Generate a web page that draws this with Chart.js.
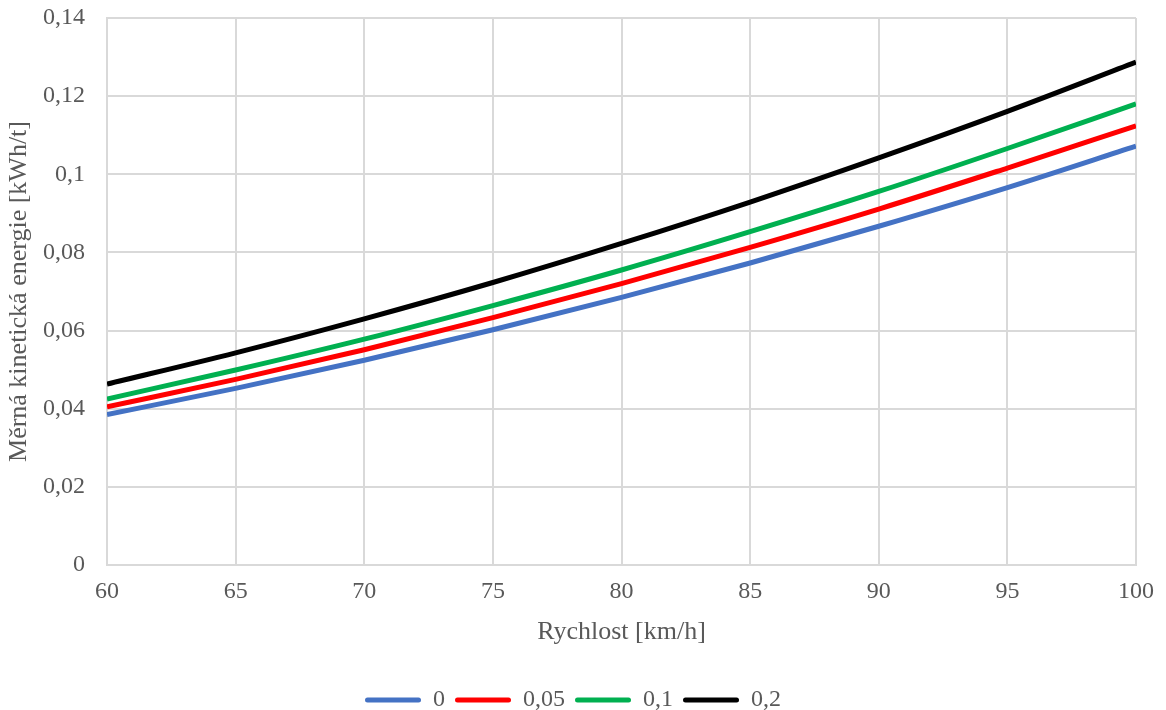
<!DOCTYPE html>
<html>
<head>
<meta charset="utf-8">
<script src="https://cdn.jsdelivr.net/npm/chart.js@4/dist/chart.umd.min.js"></script>
<style>
  html, body { margin: 0; padding: 0; background: #fff; }
  #wrap { width: 1166px; height: 710px; position: relative; }
</style>
</head>
<body>
<div id="wrap"><canvas id="energyChart"></canvas></div>
<script>
  // rychlost [km/h]
  const speeds = [60, 65, 70, 75, 80, 85, 90, 95, 100];

  // měrná kinetická energie [kWh/t] pro jednotlivé řady
  const series0 = [0.0385, 0.0452, 0.0524, 0.0602, 0.0685, 0.0773, 0.0867, 0.0966, 0.1072];
  const series005 = [0.0405, 0.0475, 0.0551, 0.0633, 0.0720, 0.0813, 0.0911, 0.1016, 0.1124];
  const series01 = [0.0425, 0.0499, 0.0578, 0.0664, 0.0755, 0.0853, 0.0956, 0.1066, 0.1180];
  const series02 = [0.0463, 0.0543, 0.0630, 0.0723, 0.0823, 0.0929, 0.1042, 0.1161, 0.1287];

  const seriesNames = ['0', '0,05', '0,1', '0,2'];
  const seriesColors = ['#4472C4', '#FF0000', '#00B050', '#000000'];

  const yTicks = [0, 0.02, 0.04, 0.06, 0.08, 0.1, 0.12, 0.14];

  const fontFamily = '"Liberation Serif", "Times New Roman", serif';
  const textColor = '#595959';
  const gridColor = '#D9D9D9';

  function toPoints(values) {
    return speeds.map((s, i) => ({ x: s, y: values[i] }));
  }

  function czNumber(v) {
    return String(+v.toFixed(2)).replace('.', ',');
  }

  const allSeries = [series0, series005, series01, series02];
  const datasets = allSeries.map((vals, i) => ({
    label: seriesNames[i],
    data: toPoints(vals),
    borderColor: seriesColors[i],
    backgroundColor: seriesColors[i],
    borderWidth: 5,
    pointRadius: 0,
    pointHoverRadius: 0,
    cubicInterpolationMode: 'monotone',
    fill: false
  }));

  const ctx = document.getElementById('energyChart').getContext('2d');
  new Chart(ctx, {
    type: 'line',
    data: { datasets: datasets },
    options: {
      responsive: true,
      maintainAspectRatio: false,
      animation: false,
      layout: { padding: { top: 0, right: 24, left: 4, bottom: -12 } },
      plugins: {
        tooltip: { enabled: false },
        legend: {
          position: 'bottom',
          labels: {
            font: { family: fontFamily, size: 24 },
            color: textColor,
            boxWidth: 56,
            boxHeight: 5,
            padding: 10,
            generateLabels: chart => chart.data.datasets.map((ds, i) => ({
              text: ds.label,
              fillStyle: ds.borderColor,
              strokeStyle: ds.borderColor,
              lineWidth: 0,
              borderRadius: 2.5,
              fontColor: textColor,
              datasetIndex: i
            }))
          }
        }
      },
      scales: {
        x: {
          type: 'linear',
          min: speeds[0],
          max: speeds[speeds.length - 1],
          ticks: {
            stepSize: 5,
            font: { family: fontFamily, size: 24 },
            color: textColor,
            padding: 12
          },
          grid: { color: gridColor, lineWidth: 2, drawTicks: false },
          border: { color: gridColor, width: 2 },
          title: {
            display: true,
            text: 'Rychlost [km/h]',
            font: { family: fontFamily, size: 26 },
            color: textColor,
            padding: { top: -1, bottom: 30 }
          }
        },
        y: {
          min: yTicks[0],
          max: yTicks[yTicks.length - 1],
          afterBuildTicks: axis => { axis.ticks = yTicks.map(v => ({ value: v })); },
          afterFit: axis => {
            axis.width = 103;
            axis.paddingTop = 18;
          },
          ticks: {
            font: { family: fontFamily, size: 24 },
            color: textColor,
            padding: 22,
            callback: v => czNumber(v)
          },
          grid: { color: gridColor, lineWidth: 2, drawTicks: false },
          border: { color: gridColor, width: 2 },
          title: {
            display: true,
            text: 'Měrná kinetická energie [kWh/t]',
            font: { family: fontFamily, size: 26 },
            color: textColor,
            padding: { top: 0, bottom: 0 }
          }
        }
      }
    }
  });
</script>
</body>
</html>
